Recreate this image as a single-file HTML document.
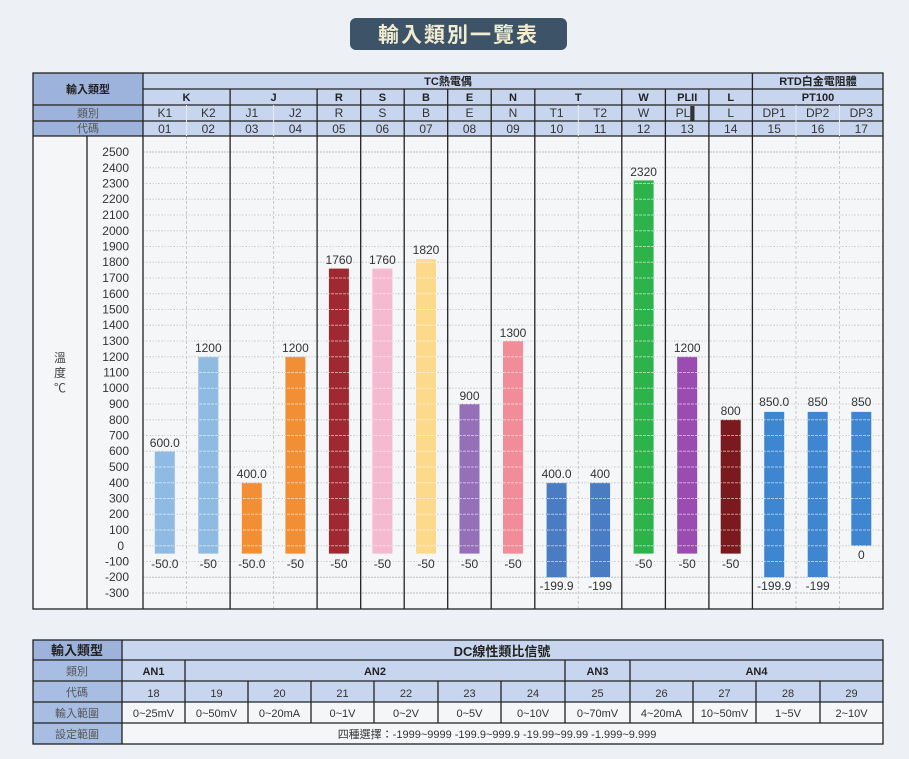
<!DOCTYPE html>
<html><head><meta charset="utf-8"><style>
html,body{margin:0;padding:0;background:#edf1f5;}
svg{display:block;font-family:"Liberation Sans","Noto Sans CJK TC",sans-serif;}
</style></head><body>
<svg width="909" height="759" viewBox="0 0 909 759" xmlns="http://www.w3.org/2000/svg">
<rect x="0" y="0" width="909" height="759" fill="#edf1f5"/>
<!-- title -->
<rect x="350" y="18" width="217" height="32" rx="6" fill="#3d5468"/>
<text x="458.5" y="42" text-anchor="middle" font-size="21" font-weight="bold" fill="#f2ecd0" letter-spacing="2">輸入類別一覽表</text>

<!-- top table header backgrounds -->
<rect x="33" y="73" width="850" height="63" fill="#c8d5ee"/>
<rect x="33" y="73" width="110" height="63" fill="#9db3dc"/>
<rect x="33" y="136" width="850" height="473" fill="#f4f6f8"/>

<!-- gridlines -->
<g stroke="#bdbdbd" stroke-width="1" stroke-dasharray="2,1">
<line x1="143" x2="883" y1="152" y2="152"/><line x1="143" x2="883" y1="167.75" y2="167.75"/><line x1="143" x2="883" y1="183.5" y2="183.5"/><line x1="143" x2="883" y1="199.25" y2="199.25"/><line x1="143" x2="883" y1="215" y2="215"/><line x1="143" x2="883" y1="230.75" y2="230.75"/><line x1="143" x2="883" y1="246.5" y2="246.5"/><line x1="143" x2="883" y1="262.25" y2="262.25"/><line x1="143" x2="883" y1="278" y2="278"/><line x1="143" x2="883" y1="293.75" y2="293.75"/><line x1="143" x2="883" y1="309.5" y2="309.5"/><line x1="143" x2="883" y1="325.25" y2="325.25"/><line x1="143" x2="883" y1="341" y2="341"/><line x1="143" x2="883" y1="356.75" y2="356.75"/><line x1="143" x2="883" y1="372.5" y2="372.5"/><line x1="143" x2="883" y1="388.25" y2="388.25"/><line x1="143" x2="883" y1="404" y2="404"/><line x1="143" x2="883" y1="419.75" y2="419.75"/><line x1="143" x2="883" y1="435.5" y2="435.5"/><line x1="143" x2="883" y1="451.25" y2="451.25"/><line x1="143" x2="883" y1="467" y2="467"/><line x1="143" x2="883" y1="482.75" y2="482.75"/><line x1="143" x2="883" y1="498.5" y2="498.5"/><line x1="143" x2="883" y1="514.25" y2="514.25"/><line x1="143" x2="883" y1="530" y2="530"/><line x1="143" x2="883" y1="545.75" y2="545.75"/><line x1="143" x2="883" y1="561.5" y2="561.5"/><line x1="143" x2="883" y1="577.25" y2="577.25"/><line x1="143" x2="883" y1="593" y2="593"/>
</g>
<!-- dashed column separators in chart -->
<g stroke="#c8c8c8" stroke-width="1" stroke-dasharray="3,2">
<line x1="186.5" x2="186.5" y1="136" y2="609"/><line x1="273.6" x2="273.6" y1="136" y2="609"/><line x1="578.3" x2="578.3" y1="136" y2="609"/><line x1="796" x2="796" y1="136" y2="609"/><line x1="839.5" x2="839.5" y1="136" y2="609"/>
</g>

<!-- bars -->
<rect x="154.8" y="451.3" width="20" height="102.3" fill="#8fbbe3"/>
<rect x="198.3" y="356.8" width="20" height="196.8" fill="#8fbbe3"/>
<rect x="241.8" y="482.8" width="20" height="70.8" fill="#f28f35"/>
<rect x="285.4" y="356.8" width="20" height="196.8" fill="#f28f35"/>
<rect x="328.9" y="268.6" width="20" height="285" fill="#a02830"/>
<rect x="372.4" y="268.6" width="20" height="285" fill="#f5b9d0"/>
<rect x="416" y="259.1" width="20" height="294.5" fill="#fdd98c"/>
<rect x="459.5" y="404" width="20" height="149.6" fill="#9570b8"/>
<rect x="503" y="341" width="20" height="212.6" fill="#f28c98"/>
<rect x="546.6" y="482.8" width="20" height="94.4" fill="#4a7cc4"/>
<rect x="590.1" y="482.8" width="20" height="94.2" fill="#4a7cc4"/>
<rect x="633.6" y="180.4" width="20" height="373.2" fill="#2db34a"/>
<rect x="677.2" y="356.8" width="20" height="196.8" fill="#9b4cb0"/>
<rect x="720.7" y="419.8" width="20" height="133.8" fill="#7a1a1e"/>
<rect x="764.2" y="411.9" width="20" height="165.3" fill="#3f86d0"/>
<rect x="807.7" y="411.9" width="20" height="165.1" fill="#3f86d0"/>
<rect x="851.3" y="411.9" width="20" height="133.85" fill="#3f86d0"/>

<!-- white stripes over bars -->
<g stroke="#ffffff" stroke-opacity="0.55" stroke-width="1" stroke-dasharray="3,1">
<line x1="143" x2="883" y1="167.75" y2="167.75"/><line x1="143" x2="883" y1="183.5" y2="183.5"/><line x1="143" x2="883" y1="199.25" y2="199.25"/><line x1="143" x2="883" y1="215" y2="215"/><line x1="143" x2="883" y1="230.75" y2="230.75"/><line x1="143" x2="883" y1="246.5" y2="246.5"/><line x1="143" x2="883" y1="262.25" y2="262.25"/><line x1="143" x2="883" y1="278" y2="278"/><line x1="143" x2="883" y1="293.75" y2="293.75"/><line x1="143" x2="883" y1="309.5" y2="309.5"/><line x1="143" x2="883" y1="325.25" y2="325.25"/><line x1="143" x2="883" y1="341" y2="341"/><line x1="143" x2="883" y1="356.75" y2="356.75"/><line x1="143" x2="883" y1="372.5" y2="372.5"/><line x1="143" x2="883" y1="388.25" y2="388.25"/><line x1="143" x2="883" y1="404" y2="404"/><line x1="143" x2="883" y1="419.75" y2="419.75"/><line x1="143" x2="883" y1="435.5" y2="435.5"/><line x1="143" x2="883" y1="451.25" y2="451.25"/><line x1="143" x2="883" y1="467" y2="467"/><line x1="143" x2="883" y1="482.75" y2="482.75"/><line x1="143" x2="883" y1="498.5" y2="498.5"/><line x1="143" x2="883" y1="514.25" y2="514.25"/><line x1="143" x2="883" y1="530" y2="530"/><line x1="143" x2="883" y1="545.75" y2="545.75"/><line x1="143" x2="883" y1="561.5" y2="561.5"/>
</g>

<!-- bar labels -->
<g font-size="12" fill="#333" text-anchor="middle">
<text x="164.8" y="447">600.0</text><text x="164.8" y="568">-50.0</text>
<text x="208.3" y="352">1200</text><text x="208.3" y="568">-50</text>
<text x="251.8" y="478">400.0</text><text x="251.8" y="568">-50.0</text>
<text x="295.4" y="352">1200</text><text x="295.4" y="568">-50</text>
<text x="338.9" y="264">1760</text><text x="338.9" y="568">-50</text>
<text x="382.4" y="264">1760</text><text x="382.4" y="568">-50</text>
<text x="426" y="254">1820</text><text x="426" y="568">-50</text>
<text x="469.5" y="400">900</text><text x="469.5" y="568">-50</text>
<text x="513" y="337">1300</text><text x="513" y="568">-50</text>
<text x="556.6" y="478">400.0</text><text x="556.6" y="590">-199.9</text>
<text x="600.1" y="478">400</text><text x="600.1" y="590">-199</text>
<text x="643.6" y="176">2320</text><text x="643.6" y="568">-50</text>
<text x="687.2" y="352">1200</text><text x="687.2" y="568">-50</text>
<text x="730.7" y="415">800</text><text x="730.7" y="568">-50</text>
<text x="774.2" y="406">850.0</text><text x="774.2" y="590">-199.9</text>
<text x="817.7" y="406">850</text><text x="817.7" y="590">-199</text>
<text x="861.3" y="406">850</text><text x="861.3" y="559">0</text>
</g>

<!-- y axis labels -->
<g font-size="12" fill="#333" text-anchor="end">
<text x="129" y="156">2500</text><text x="129" y="172">2400</text><text x="129" y="187.5">2300</text><text x="129" y="203">2200</text><text x="129" y="219">2100</text><text x="129" y="235">2000</text><text x="129" y="250.5">1900</text><text x="129" y="266">1800</text><text x="129" y="282">1700</text><text x="129" y="298">1600</text><text x="129" y="313.5">1500</text><text x="129" y="329">1400</text><text x="129" y="345">1300</text><text x="129" y="361">1200</text><text x="129" y="376.5">1100</text><text x="129" y="392">1000</text><text x="129" y="408">900</text><text x="129" y="424">800</text><text x="129" y="439.5">700</text><text x="129" y="455">600</text><text x="129" y="471">500</text><text x="129" y="487">400</text><text x="129" y="502.5">300</text><text x="129" y="518">200</text><text x="129" y="534">100</text><text x="124" y="550">0</text><text x="129" y="565.5">-100</text><text x="129" y="581">-200</text><text x="129" y="597">-300</text>
</g>
<g font-size="12" fill="#444" text-anchor="middle">
<text x="60" y="362">溫</text><text x="60" y="377">度</text><text x="60" y="392">℃</text>
</g>

<!-- header lines -->
<g stroke="#222" stroke-width="1.3" fill="none">
<rect x="33" y="73" width="850" height="536"/>
<line x1="143" x2="883" y1="89" y2="89"/>
<line x1="33" x2="883" y1="105" y2="105"/>
<line x1="33" x2="883" y1="121" y2="121"/>
<line x1="33" x2="883" y1="136" y2="136"/>
<line x1="143" x2="143" y1="73" y2="609"/>
<line x1="87" x2="87" y1="136" y2="609"/>
<line x1="752.4" x2="752.4" y1="73" y2="609"/>
<line x1="230.1" x2="230.1" y1="89" y2="609"/>
<line x1="317.1" x2="317.1" y1="89" y2="609"/>
<line x1="360.7" x2="360.7" y1="89" y2="609"/>
<line x1="404.2" x2="404.2" y1="89" y2="609"/>
<line x1="447.7" x2="447.7" y1="89" y2="609"/>
<line x1="491.2" x2="491.2" y1="89" y2="609"/>
<line x1="534.8" x2="534.8" y1="89" y2="609"/>
<line x1="621.8" x2="621.8" y1="89" y2="609"/>
<line x1="665.4" x2="665.4" y1="89" y2="609"/>
<line x1="708.9" x2="708.9" y1="89" y2="609"/>
</g>
<g stroke="#e6ecf6" stroke-width="1">
<line x1="186.5" x2="186.5" y1="105" y2="136"/><line x1="273.6" x2="273.6" y1="105" y2="136"/><line x1="578.3" x2="578.3" y1="105" y2="136"/><line x1="796" x2="796" y1="105" y2="136"/><line x1="839.5" x2="839.5" y1="105" y2="136"/>
</g>

<!-- header text -->
<g font-size="11" fill="#222" text-anchor="middle" font-weight="bold">
<text x="88" y="93">輸入類型</text>
<text x="448" y="85">TC熱電偶</text>
<text x="818" y="85">RTD白金電阻體</text>
<text x="186.5" y="101">K</text><text x="273.6" y="101">J</text><text x="338.9" y="101">R</text><text x="382.4" y="101">S</text><text x="426" y="101">B</text><text x="469.5" y="101">E</text><text x="513" y="101">N</text><text x="578.3" y="101">T</text><text x="643.6" y="101">W</text><text x="687.2" y="101">PLII</text><text x="730.7" y="101">L</text><text x="818" y="101">PT100</text>
</g>
<g font-size="11" fill="#555" text-anchor="middle">
<text x="88" y="117">類別</text><text x="88" y="132">代碼</text>
</g>
<g font-size="12" fill="#333" text-anchor="middle">
<text x="164.8" y="117">K1</text><text x="208.3" y="117">K2</text><text x="251.8" y="117">J1</text><text x="295.4" y="117">J2</text><text x="338.9" y="117">R</text><text x="382.4" y="117">S</text><text x="426" y="117">B</text><text x="469.5" y="117">E</text><text x="513" y="117">N</text><text x="556.6" y="117">T1</text><text x="600.1" y="117">T2</text><text x="643.6" y="117">W</text><text x="687.2" y="117">PL▌</text><text x="730.7" y="117">L</text><text x="774.2" y="117">DP1</text><text x="817.7" y="117">DP2</text><text x="861.3" y="117">DP3</text>
<text x="164.8" y="133">01</text><text x="208.3" y="133">02</text><text x="251.8" y="133">03</text><text x="295.4" y="133">04</text><text x="338.9" y="133">05</text><text x="382.4" y="133">06</text><text x="426" y="133">07</text><text x="469.5" y="133">08</text><text x="513" y="133">09</text><text x="556.6" y="133">10</text><text x="600.1" y="133">11</text><text x="643.6" y="133">12</text><text x="687.2" y="133">13</text><text x="730.7" y="133">14</text><text x="774.2" y="133">15</text><text x="817.7" y="133">16</text><text x="861.3" y="133">17</text>
</g>

<!-- bottom table -->
<rect x="33" y="640" width="850" height="62" fill="#c8d5ee"/>
<rect x="122" y="702" width="761" height="42" fill="#f4f6f8"/>
<rect x="33" y="640" width="89" height="104" fill="#a8bde2"/>
<rect x="33" y="640" width="89" height="20" fill="#9db3dc"/>
<g stroke="#222" stroke-width="1.3" fill="none">
<rect x="33" y="640" width="850" height="104"/>
<line x1="33" x2="883" y1="660" y2="660"/>
<line x1="33" x2="883" y1="681" y2="681"/>
<line x1="33" x2="883" y1="702" y2="702"/>
<line x1="33" x2="883" y1="723" y2="723"/>
<line x1="122" x2="122" y1="640" y2="744"/>
<line x1="185" x2="185" y1="660" y2="723"/>
<line x1="565" x2="565" y1="660" y2="723"/>
<line x1="630" x2="630" y1="660" y2="723"/>
<line x1="248" x2="248" y1="681" y2="723"/><line x1="311" x2="311" y1="681" y2="723"/><line x1="374" x2="374" y1="681" y2="723"/><line x1="438" x2="438" y1="681" y2="723"/><line x1="501" x2="501" y1="681" y2="723"/><line x1="693" x2="693" y1="681" y2="723"/><line x1="756" x2="756" y1="681" y2="723"/><line x1="820" x2="820" y1="681" y2="723"/>
</g>
<g text-anchor="middle">
<text x="77" y="655" font-size="13" font-weight="bold" fill="#222">輸入類型</text>
<text x="502" y="656" font-size="13" font-weight="bold" fill="#222">DC線性類比信號</text>
<text x="77" y="675" font-size="11" fill="#555">類別</text>
<text x="77" y="696" font-size="11" fill="#555">代碼</text>
<text x="77" y="717" font-size="11" fill="#555">輸入範圍</text>
<text x="77" y="738" font-size="11" fill="#555">設定範圍</text>
<g font-size="11" font-weight="bold" fill="#222">
<text x="153.5" y="675">AN1</text><text x="375" y="675">AN2</text><text x="597.5" y="675">AN3</text><text x="756.5" y="675">AN4</text>
</g>
<g font-size="11" fill="#333">
<text x="153.5" y="697">18</text><text x="216.5" y="697">19</text><text x="279.5" y="697">20</text><text x="342.5" y="697">21</text><text x="406" y="697">22</text><text x="469.5" y="697">23</text><text x="533" y="697">24</text><text x="597.5" y="697">25</text><text x="661.5" y="697">26</text><text x="724.5" y="697">27</text><text x="788" y="697">28</text><text x="851.5" y="697">29</text>
<text x="153.5" y="717">0~25mV</text><text x="216.5" y="717">0~50mV</text><text x="279.5" y="717">0~20mA</text><text x="342.5" y="717">0~1V</text><text x="406" y="717">0~2V</text><text x="469.5" y="717">0~5V</text><text x="533" y="717">0~10V</text><text x="597.5" y="717">0~70mV</text><text x="661.5" y="717">4~20mA</text><text x="724.5" y="717">10~50mV</text><text x="788" y="717">1~5V</text><text x="851.5" y="717">2~10V</text>
</g>
<text x="497" y="738" font-size="11" fill="#333">四種選擇：-1999~9999  -199.9~999.9  -19.99~99.99  -1.999~9.999</text>
</g>
</svg>
</body></html>
